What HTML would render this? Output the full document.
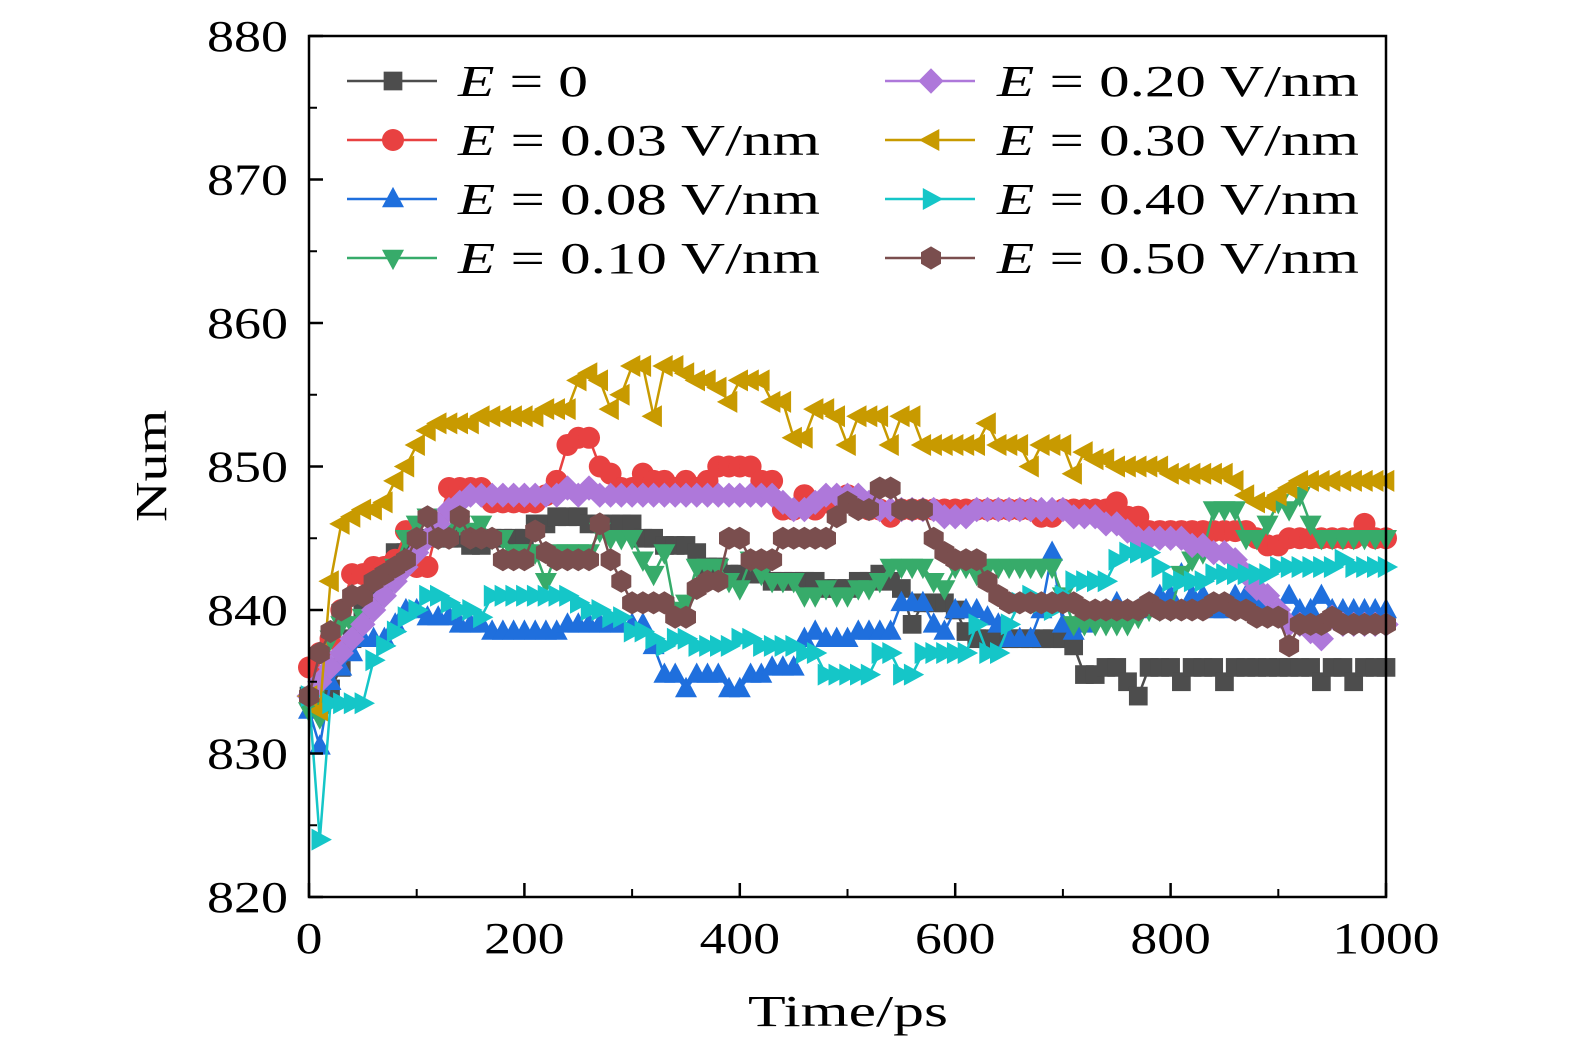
<!DOCTYPE html>
<html><head><meta charset="utf-8"><style>
html,body{margin:0;padding:0;background:#fff;}
svg{display:block;font-family:"Liberation Serif",serif;}
</style></head><body>
<svg id="chart" width="1575" height="1053" viewBox="0 0 1575 1053" xmlns="http://www.w3.org/2000/svg">
<g id="series"></g>
<rect x="309" y="36" width="1077" height="861" fill="none" stroke="#000" stroke-width="2.5"/>
<g id="axes"></g>
<g id="legend"></g>
<text x="748" y="1026" font-size="44" textLength="200" lengthAdjust="spacingAndGlyphs">Time/ps</text>
<text transform="translate(166,522) rotate(-90)" font-size="44" textLength="112" lengthAdjust="spacingAndGlyphs">Num</text>
</svg>
<script>
const times = Array.from({length:101},(_,i)=>i*10);
const xTicks = [0,200,400,600,800,1000];
const yTicks = [820,830,840,850,860,870,880];
const labels = ["0","0.03 V/nm","0.08 V/nm","0.10 V/nm","0.20 V/nm","0.30 V/nm","0.40 V/nm","0.50 V/nm"];
const sE0 = [834,834,834.5,836,838,840,841,842.5,844,844,844.5,845,845,845,845,844.5,844.5,845,845,845,845,846,846,846.5,846.5,846.5,846,846,846,846,846,845,845,844.5,844.5,844.5,844,843,843,842.5,842.5,842.5,842.5,842,842,842,842,842,841.5,841.5,841.5,842,842,842.5,842,841.5,839,840.5,840.5,840.5,840,838.5,838,838,838,838,838,838,838,838,838,837.5,835.5,835.5,836,836,835,834,836,836,836,835,836,836,836,835,836,836,836,836,836,836,836,836,835,836,836,835,836,836,836];
const sE003 = [836,837,838,840,842.5,842.5,843,843,843.5,845.5,843,843,846,848.5,848.5,848.5,848.5,847.5,847.5,847.5,847.5,847.5,848,849,851.5,852,852,850,849.5,848.5,848.5,849.5,849,849,848.5,849,848.5,849,850,850,850,850,849,849,847,847,848,847,847.5,847.5,848,847.5,847,847,846.5,847,847,847,847,847,847,847,847,847,847,847,847,847,846.5,846.5,847,847,847,847,847,847.5,846.5,846.5,845.5,845.5,845.5,845.5,845.5,845.5,845.5,845.5,845.5,845.5,845,844.5,844.5,845,845,845,845,845,845,845,846,845,845];
const sE008 = [833,830.5,835,836,837,838,838,838,839,840,840,839.5,839.5,839.5,839,839,839,838.5,838.5,838.5,838.5,838.5,838.5,838.5,839,839,839,839,839,839,839,839,837.5,835.5,835.5,834.5,835.5,835.5,835.5,834.5,834.5,835.5,835.5,836,836,836,838,838.5,838,838,838,838.5,838.5,838.5,838.5,840.5,840.5,840.5,839,838.5,840,840,840,839.5,839,838,838,838,840,844,839,838.5,839,839.5,840,840.5,840,840,840.5,841,841,842.5,841,841,840,840,841,841,840.5,840,840,841,840,840,841,840,840,840,840,840,840];
const sE010 = [833,832.5,838,839,839,839.5,840,841,843,845,846,846.5,845,845.5,846,845.5,846,845,845,844,844,844,842,844,844,844,844,845.5,845,845,845,843.5,842.5,844,840,840.5,843,843,843,842,841.5,843.5,842.5,842,842,842,841,841,841.5,841,841,841.5,841.5,842,843,843,843,843,842,841.5,843,843,842.5,843,843,843,843,843,843,843,841,839,839,839,839,839,839,839.5,840,840,840,842.5,843.5,844,847,847,847,845,845,846,847.5,847,848,846,845,845,845,845,845,845,845];
const sE020 = [834,835,836,837,838,839,840,841,842,843,844,845,846,847,847.5,848,848,848,848,848,848,848,848,848,848.5,848,848.5,848,848,848,848,848,848,848,848,848,848,848,848,848,848,848,848,848,847.5,847,847,847.5,848,848,848,848,847.5,847,847,847,847,847,847,846.5,846.5,846.5,847,847,847,847,847,847,847,847,847,846.5,846.5,846.5,846,846,845.5,845,845,845,845,845,844.5,844.5,844,844,843.5,842.5,841.5,841,840,839,839,838.5,838,839.5,839,839,839,839,839];
const sE030 = [834,833,842,846,846.5,847,847,847.5,849,850,851.5,852.5,853,853,853,853,853.5,853.5,853.5,853.5,853.5,853.5,854,854,854,856,856.5,856,854,855,857,857,853.5,857,857,856.5,856,856,855.5,854.5,856,856,856,854.5,854.5,852,852,854,854,853.5,851.5,853.5,853.5,853.5,851.5,853.5,853.5,851.5,851.5,851.5,851.5,851.5,851.5,853,851.5,851.5,851.5,850,851.5,851.5,851.5,849.5,851,850.5,850.5,850,850,850,850,850,849.5,849.5,849.5,849.5,849.5,849.5,849,848,847.5,847.5,848,848.5,849,849,849,849,849,849,849,849,849];
const sE040 = [834,824,833.5,833.5,833.5,833.5,836.5,837.5,838.5,839.5,840,841,841,840.5,840,840,839.5,841,841,841,841,841,841,841,841,840.5,840,840,839.5,839.5,838.5,838.5,838,837.5,838,838,837.5,837.5,837.5,837.5,838,838,837.5,837.5,837.5,837.5,837,837,835.5,835.5,835.5,835.5,835.5,837,837,835.5,835.5,837,837,837,837,837,839,837,837,839,840.5,841,840.5,840,841,842,842,842,842,843.5,844,844,844,843,842,842,842,842,842.5,842.5,842.5,842.5,842.5,842.5,843,843,843,843,843,843,843.5,843,843,843,843];
const sE050 = [834,837,838.5,840,841,841,842,842.5,843,843.5,845,846.5,845,845,846.5,845,845,845,843.5,843.5,843.5,845.5,844,843.5,843.5,843.5,843.5,846,843.5,842,840.5,840.5,840.5,840.5,839.5,839.5,841.5,842,842,845,845,843.5,843.5,843.5,845,845,845,845,845,846.5,847.5,847,847,848.5,848.5,847,847,847,845,844,843.5,843.5,843.5,842,841,840.5,840.5,840.5,840.5,840.5,840.5,840.5,840,840,840,840,840,840,840.5,840,840,840,840,840,840.5,840.5,840,840,839.5,839.5,839.5,837.5,839,839,839,839.5,839,839,839,839,839];
const seriesData = [sE0,sE003,sE008,sE010,sE020,sE030,sE040,sE050];
const colors = ["#4d4d4d","#e84141","#1f6fdd","#37ab6a","#ae78da","#c89a00","#15c6c8","#7a4e4e"];
const shapes = ["square","circle","up","down","diamond","left","right","hex"];
const NS="http://www.w3.org/2000/svg";
const X0=309,X1=1386,Y0=897,Y1=36;
function xs(t){return X0+(t-0)/(1000-0)*(X1-X0);}
function ys(v){return Y0-(v-820)/(880-820)*(Y0-Y1);}
function el(tag,attrs,parent){const e=document.createElementNS(NS,tag);for(const k in attrs)e.setAttribute(k,attrs[k]);parent.appendChild(e);return e;}
function marker(shape,x,y,c,r,parent){
  let p;
  if(shape==="square") p=el("rect",{x:x-r*0.85,y:y-r*0.85,width:r*1.7,height:r*1.7,fill:c},parent);
  else if(shape==="circle") p=el("circle",{cx:x,cy:y,r:r,fill:c},parent);
  else{
    let pts=[];
    if(shape==="up") pts=[[0,-r*1.1],[r,r*0.75],[-r,r*0.75]];
    if(shape==="down") pts=[[0,r*1.1],[r,-r*0.75],[-r,-r*0.75]];
    if(shape==="left") pts=[[-r*1.1,0],[r*0.75,-r],[r*0.75,r]];
    if(shape==="right") pts=[[r*1.1,0],[-r*0.75,-r],[-r*0.75,r]];
    if(shape==="diamond") pts=[[0,-r*1.15],[r*1.15,0],[0,r*1.15],[-r*1.15,0]];
    if(shape==="hex") for(let k=0;k<6;k++){const a=Math.PI/6+k*Math.PI/3;pts.push([r*1.05*Math.cos(a),r*1.05*Math.sin(a)]);}
    p=el("polygon",{points:pts.map(q=>(x+q[0]).toFixed(1)+","+(y+q[1]).toFixed(1)).join(" "),fill:c},parent);
  }
  return p;
}
const sg=document.getElementById("series");
seriesData.forEach((d,si)=>{
  const g=el("g",{},sg);
  
  
  const pts=d.map((v,i)=>xs(times[i]).toFixed(1)+","+ys(v).toFixed(1)).join(" ");
  const pl=el("polyline",{points:pts,fill:"none",stroke:colors[si],"stroke-width":2.5},g);
  
  
  d.forEach((v,i)=>{
    const m=marker(shapes[si],xs(times[i]),ys(v),colors[si],11,g);
    
    
  });
});
const ax=document.getElementById("axes");
xTicks.forEach(t=>{
  const l=el("line",{x1:xs(t),x2:xs(t),y1:Y0,y2:Y0-14,stroke:"#000","stroke-width":2.5},ax);
  
  
  const s=String(t);
  const w=s.length*26.8;
  const tx=el("text",{x:xs(t)-w/2,y:953,"font-size":44,textLength:w,lengthAdjust:"spacingAndGlyphs"},ax);
  tx.textContent=s;
  
  
});
for(let t=100;t<1000;t+=200){
  const l=el("line",{x1:xs(t),x2:xs(t),y1:Y0,y2:Y0-8,stroke:"#000","stroke-width":2},ax);
  
  
}
yTicks.forEach(v=>{
  const l=el("line",{x1:X0,x2:X0+14,y1:ys(v),y2:ys(v),stroke:"#000","stroke-width":2.5},ax);
  
  
  const tx=el("text",{x:207,y:ys(v)+15,"font-size":44,textLength:81,lengthAdjust:"spacingAndGlyphs"},ax);
  tx.textContent=v;
  
  
});
for(let v=825;v<880;v+=10){
  const l=el("line",{x1:X0,x2:X0+8,y1:ys(v),y2:ys(v),stroke:"#000","stroke-width":2},ax);
  
  
}
const lg=document.getElementById("legend");
labels.forEach((lab,i)=>{
  const col=Math.floor(i/4),row=i%4;
  const lx=col?885:347, tx0=col?997:458, y=81+row*59;
  const g=el("g",{},lg);
  
  
  el("line",{x1:lx,x2:lx+90,y1:y,y2:y,stroke:colors[i],"stroke-width":2.5},g);
  marker(shapes[i],lx+46,y,colors[i],11,g);
  const w = lab==="0" ? 130 : 362;
  const t=el("text",{x:tx0,y:y+15,"font-size":44,textLength:w,lengthAdjust:"spacingAndGlyphs"},g);
  t.innerHTML='<tspan font-style="italic">E</tspan> = '+lab;
  
  
});
</script>
</body></html>
